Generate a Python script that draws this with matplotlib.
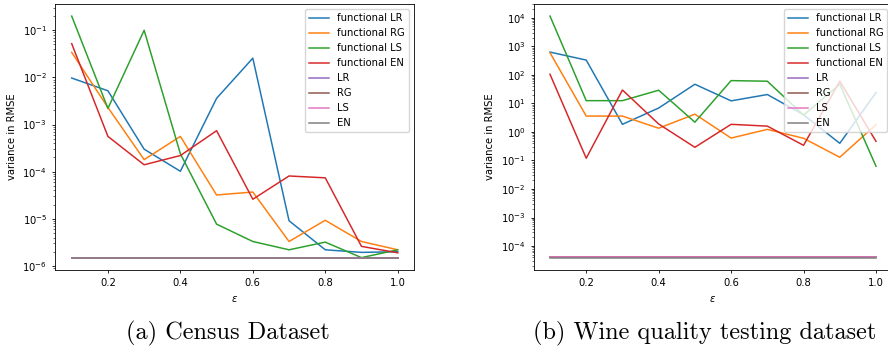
"""Variance in RMSE vs epsilon, census and wine datasets."""
import matplotlib

matplotlib.use("Agg")
import matplotlib.pyplot as plt
import numpy as np

EPS = [0.1, 0.2, 0.3, 0.4, 0.5, 0.6, 0.7, 0.8, 0.9, 1.0]
LABELS = ["functional LR", "functional RG", "functional LS", "functional EN",
          "LR", "RG", "LS", "EN"]

# census dataset
census_func_lr = [9.7e-3, 5.2e-3, 3.0e-4, 1.02e-4, 3.6e-3, 2.56e-2, 9.1e-6, 2.2e-6, 1.94e-6, 2.0e-6]
census_func_rg = [3.4e-2, 2.3e-3, 1.8e-4, 5.6e-4, 3.2e-5, 3.7e-5, 3.3e-6, 9.3e-6, 3.3e-6, 2.2e-6]
census_func_ls = [0.2, 2.2e-3, 0.1, 2.4e-4, 7.7e-6, 3.3e-6, 2.2e-6, 3.2e-6, 1.5e-6, 2.2e-6]
census_func_en = [5.2e-2, 5.6e-4, 1.4e-4, 2.2e-4, 7.4e-4, 2.6e-5, 8.1e-5, 7.4e-5, 2.6e-6, 1.9e-6]
census_lr = [1.48e-6] * 10
census_rg = [1.48e-6] * 10
census_ls = [1.48e-6] * 10
census_en = [1.48e-6] * 10

# wine quality dataset
wine_func_lr = [630, 330, 1.85, 6.9, 47, 12.3, 20.5, 4.0, 0.40, 24]
wine_func_rg = [600, 3.6, 3.6, 1.35, 4.2, 0.61, 1.23, 0.6, 0.13, 1.8]
wine_func_ls = [1.15e4, 12.5, 12.5, 29, 2.2, 63, 60, 3.9, 47, 0.063]
wine_func_en = [105, 0.12, 29.5, 1.9, 0.29, 1.85, 1.6, 0.34, 60, 0.47]
wine_lr = [4.3e-5] * 10
wine_rg = [4.05e-5] * 10
wine_ls = [4.1e-5] * 10
wine_en = [3.85e-5] * 10

census = [census_func_lr, census_func_rg, census_func_ls, census_func_en,
          census_lr, census_rg, census_ls, census_en]
wine = [wine_func_lr, wine_func_rg, wine_func_ls, wine_func_en,
        wine_lr, wine_rg, wine_ls, wine_en]

FS = 7.2
plt.rcParams["font.size"] = FS

fig = plt.figure(figsize=(8.88, 3.48), dpi=100)
W, H = 888, 348
ax1 = fig.add_axes([55.4 / W, 78 / H, 358.6 / W, 266 / H])
ax2 = fig.add_axes([533.7 / W, 78 / H, 358.6 / W, 266 / H])

for ax, series in [(ax1, census), (ax2, wine)]:
    for i, (vals, lab) in enumerate(zip(series, LABELS)):
        ax.plot(EPS, vals, color=f"C{i}", lw=1.08, label=lab)
    ax.set_yscale("log")
    ax.set_xlabel(r"$\epsilon$", fontsize=FS)
    ax.set_ylabel("variance in RMSE", fontsize=FS)
    ax.tick_params(labelsize=FS, width=0.6, length=2.5)
    ax.tick_params(which="minor", width=0.4, length=1.5)
    for s in ax.spines.values():
        s.set_linewidth(0.6)
    ax.legend(loc="upper right", fontsize=FS)

# captions (LaTeX-style subfigure labels)
fig.text(126 / W, 1 - 339 / H, "(a) Census Dataset", family="cmr10",
         fontsize=17.5, ha="left", va="baseline")
fig.text(876 / W, 1 - 339 / H, "(b) Wine quality testing dataset", family="cmr10",
         fontsize=17.5, ha="right", va="baseline")

fig.savefig("out.png", dpi=100)
